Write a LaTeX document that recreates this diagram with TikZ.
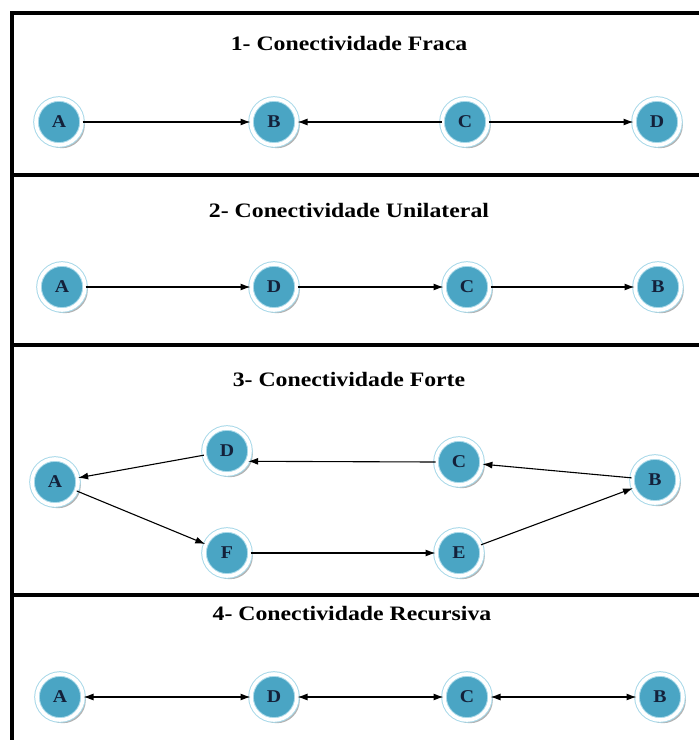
\documentclass[tikz,border=0pt]{standalone}
\usepackage{fontspec}
\setmainfont{Liberation Serif}
\newfontfamily\labelfont[FakeStretch=1.1]{Liberation Serif}
\newfontfamily\headfont[FakeStretch=1.16]{Liberation Serif}
\usetikzlibrary{arrows.meta,shadows}
\definecolor{nodefill}{HTML}{4AA5C4}
\definecolor{ringedge}{HTML}{A9D9E9}
\definecolor{inkblue}{HTML}{14213A}
\begin{document}
\begin{tikzpicture}[x=1pt,y=-1pt,
  vertex/.style={circle, minimum size=46pt, inner sep=0pt, fill=nodefill,
    draw=ringedge, line width=1pt, double=white, double distance=3.6pt,
    drop shadow={shadow xshift=2.8pt, shadow yshift=-3.2pt, fill=black!60, opacity=0.5},
    font=\labelfont\bfseries\fontsize{18}{18}\selectfont, text=inkblue},
  link/.style={line width=1.1pt, -{Latex[length=10pt,width=7pt]}},
  twoway/.style={line width=1.1pt, {Latex[length=10pt,width=7pt]}-{Latex[length=10pt,width=7pt]}},
  frame/.style={line width=4pt},
  heading/.style={font=\headfont\bfseries\fontsize{20.5}{21}\selectfont, inner sep=0pt}
]
\useasboundingbox (0,0) rectangle (699,740);

% frame: top rule, left rule and the three separators
\draw[frame] (699,13) -- (12,13) -- (12,740);
\draw[frame] (12,175) -- (699,175);
\draw[frame] (12,345) -- (699,345);
\draw[frame] (12,595) -- (699,595);

% 1- weak connectivity
\node[heading] (t1) at (349,43) {1- Conectividade Fraca};
\node[vertex] (a1) at (59,122) {A};
\node[vertex] (b1) at (274,122) {B};
\node[vertex] (c1) at (465,122) {C};
\node[vertex] (d1) at (657,122) {D};
\draw[link] (a1) -- (b1);
\draw[link] (c1) -- (b1);
\draw[link] (c1) -- (d1);

% 2- unilateral connectivity
\node[heading] (t2) at (349,210) {2- Conectividade Unilateral};
\node[vertex] (a2) at (62,287) {A};
\node[vertex] (d2) at (274,287) {D};
\node[vertex] (c2) at (467,287) {C};
\node[vertex] (b2) at (658,287) {B};
\draw[link] (a2) -- (d2);
\draw[link] (d2) -- (c2);
\draw[link] (c2) -- (b2);

% 3- strong connectivity
\node[heading] (t3) at (349,379) {3- Conectividade Forte};
\node[vertex] (a3) at (55,482) {A};
\node[vertex] (d3) at (227,451) {D};
\node[vertex] (c3) at (459,462) {C};
\node[vertex] (b3) at (655,480) {B};
\node[vertex] (f3) at (227,553) {F};
\node[vertex] (e3) at (459,553) {E};
\draw[link] (d3) -- (a3);
\draw[link] (c3.west) -- (d3.-26);
\draw[link] (b3) -- (c3);
\draw[link] (a3) -- (f3);
\draw[link] (f3) -- (e3);
\draw[link] (e3) -- (b3);

% 4- recursive connectivity
\node[heading] (t4) at (352,614) {4- Conectividade Recursiva};
\node[vertex] (a4) at (60,697) {A};
\node[vertex] (d4) at (274,697) {D};
\node[vertex] (c4) at (467,697) {C};
\node[vertex] (b4) at (660,697) {B};
\draw[twoway] (a4) -- (d4);
\draw[twoway] (d4) -- (c4);
\draw[twoway] (c4) -- (b4);
\end{tikzpicture}
\end{document}
